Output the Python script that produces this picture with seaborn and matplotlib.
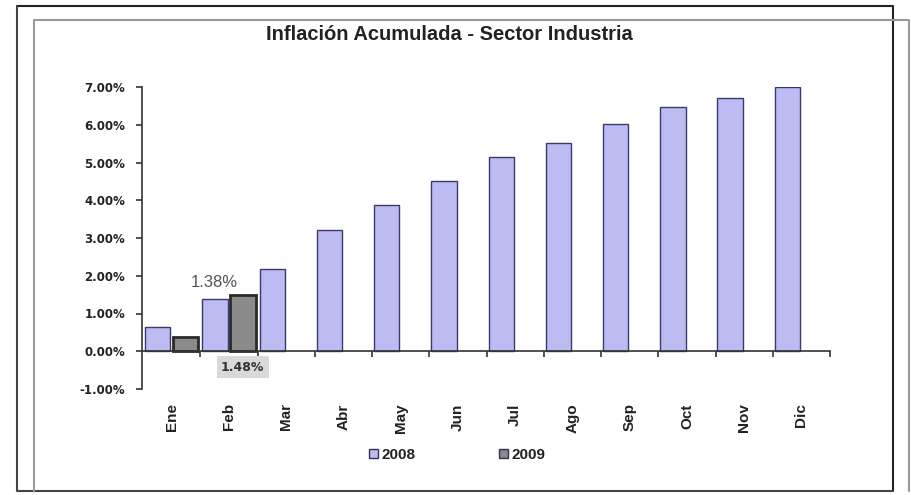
import numpy as np
import pandas as pd
import seaborn as sns
import matplotlib.pyplot as plt
from matplotlib.lines import Line2D
from matplotlib.ticker import FuncFormatter

# Datos
meses = ['Ene', 'Feb', 'Mar', 'Abr', 'May', 'Jun', 'Jul', 'Ago', 'Sep', 'Oct', 'Nov', 'Dic']
inflacion_2008 = [0.65, 1.38, 2.18, 3.21, 3.87, 4.51, 5.14, 5.51, 6.01, 6.46, 6.70, 7.01]
inflacion_2009 = [0.38, 1.48]

df = pd.DataFrame({
    'mes': meses * 2,
    'valor': inflacion_2008 + inflacion_2009 + [np.nan] * (len(meses) - len(inflacion_2009)),
    'anio': ['2008'] * len(meses) + ['2009'] * len(meses),
})

sns.set_style('white')
plt.rcParams['font.family'] = ['Liberation Sans', 'DejaVu Sans']

W, H = 911, 495
fig = plt.figure(figsize=(W / 100, H / 100), dpi=100)
ax = fig.add_axes([142 / W, 1 - 389 / H, (830 - 142) / W, (389 - 87) / H])

sns.barplot(data=df, x='mes', y='valor', hue='anio', order=meses,
            palette={'2008': '#b3b3fb', '2009': '#8a8a8a'},
            width=0.98, gap=0.1, ax=ax, legend=True)

for cont, (anio, color) in zip(ax.containers, [('2008', '#3a3a6a'), ('2009', '#2a2a2a')]):
    for bar in cont:
        bar.set_edgecolor(color)
        bar.set_linewidth(1.0 if anio == '2008' else 2.0)

ax.set_ylim(-1, 7)
ax.set_xlim(-0.52, 11.48)
ax.set_yticks(np.arange(-1, 8, 1))
ax.yaxis.set_major_formatter(FuncFormatter(lambda v, p: f'{v:.2f}%'))
for lbl in ax.get_yticklabels():
    lbl.set_fontweight('bold')
    lbl.set_fontsize(8.5)
    lbl.set_family('DejaVu Sans')
    lbl.set_color('#222222')

# eje x en el cero, marcas entre categorias
ax.spines['bottom'].set_position(('data', 0))
ax.spines['top'].set_visible(False)
ax.spines['right'].set_visible(False)
for s in ['left', 'bottom']:
    ax.spines[s].set_color('#333333')
    ax.spines[s].set_linewidth(1.2)
ax.tick_params(axis='y', direction='out', length=4, width=1.2, color='#333333', left=True, pad=8)
ax.set_xticks(np.arange(0.5, 12, 1), minor=True)
ax.tick_params(axis='x', which='minor', direction='out', length=4, width=1.2, color='#333333', bottom=True)
ax.tick_params(axis='x', which='major', length=0)
ax.set_xticks(range(len(meses)))
ax.set_xticklabels([])
ax.set_xlabel('')
ax.set_ylabel('')

# etiquetas de meses debajo del -1%
for i, m in enumerate(meses):
    ax.text(i, -1.38, m, rotation=90, ha='center', va='top', fontsize=11,
            fontweight='bold', family=['Liberation Sans Narrow', 'Liberation Sans'],
            color='#222222')

# etiquetas de datos
ax.text(1 - 0.25, inflacion_2008[1] + 0.25, '1.38%', ha='center', va='bottom',
        fontsize=12, color='#555555')
ax.text(1 + 0.24, -0.42, '1.48%', ha='center', va='center', fontsize=9,
        fontweight='bold', family='DejaVu Sans', color='#333333',
        bbox=dict(boxstyle='square,pad=0.35', fc='#d9d9d9', ec='none'))

fig.text(449 / W, 1 - 34 / H, 'Inflación Acumulada - Sector Industria', fontsize=14.5,
         fontweight='bold', ha='center', va='center', color='#222222')

leg = ax.legend(loc='center', bbox_to_anchor=(0.458, -0.218), ncol=2, frameon=False,
                fontsize=11, handlelength=0.6, handleheight=0.6, columnspacing=5.5,
                handletextpad=0.2)
for t in leg.get_texts():
    t.set_fontweight('bold')
    t.set_color('#222222')
for h in leg.legend_handles:
    h.set_edgecolor('#333355')
    h.set_linewidth(1)

# marcos de la imagen
def px_line(xs, ys, color, lw):
    fig.add_artist(Line2D([x / W for x in xs], [1 - y / H for y in ys],
                          transform=fig.transFigure, color=color, lw=lw))

px_line([17, 893, 893], [6, 6, 491], '#222222', 1.5)
px_line([17, 17, 893], [6, 491, 491], '#444444', 1.5)
px_line([34, 909, 909], [20, 20, 491], '#999999', 1.5)
px_line([34, 34], [20, 491], '#999999', 1.5)

plt.savefig('out.png', dpi=100)
